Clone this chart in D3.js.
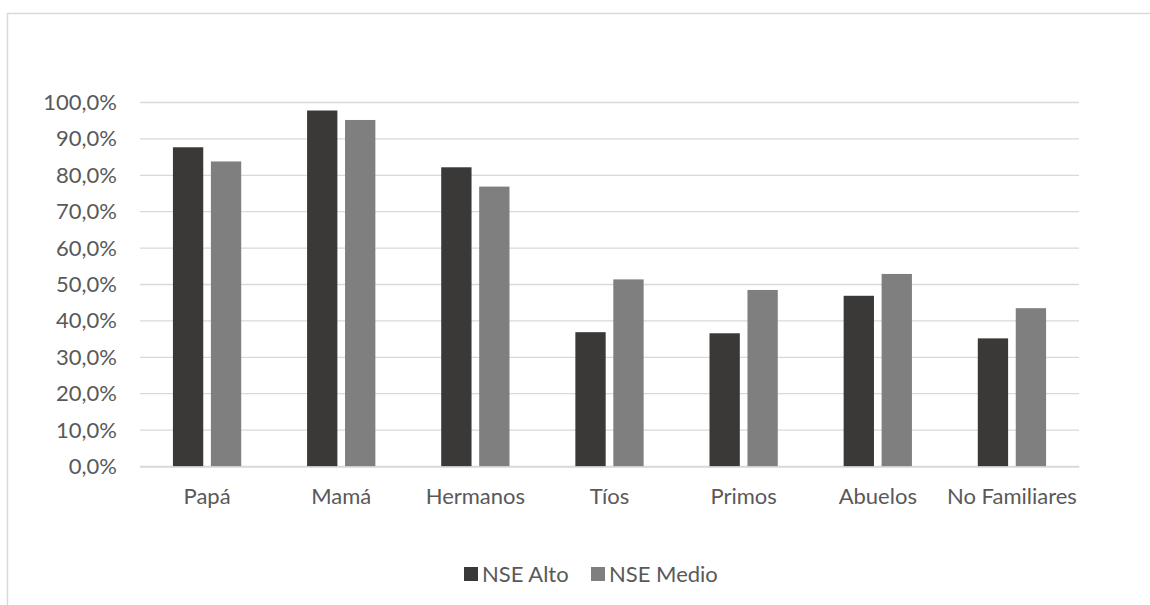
<!DOCTYPE html>
<html>
<head>
<meta charset="utf-8">
<script src="https://cdn.jsdelivr.net/npm/d3@7"></script>
<style>
  body { margin: 0; background: #fff; }
  text { font-family: Lato, "Open Sans", sans-serif; fill: #595959; }
</style>
</head>
<body>
<div id="chart-area"></div>
<script>
const categories = ["Papá", "Mamá", "Hermanos", "Tíos", "Primos", "Abuelos", "No Familiares"];
const seriesNames = ["NSE Alto", "NSE Medio"];
const nseAlto = [87.7, 97.8, 82.2, 36.9, 36.6, 46.9, 35.2];
const nseMedio = [83.8, 95.2, 76.9, 51.4, 48.5, 52.9, 43.5];
const yTicks = [0, 10, 20, 30, 40, 50, 60, 70, 80, 90, 100];
const colors = ["#3a3937", "#7f7f7f"];

let W = 1150, H = 605;
let margin = {top: 102.5, right: 71, bottom: 138.5, left: 140},
  width = W - margin.left - margin.right,
  height = H - margin.top - margin.bottom;

let root = d3.select("#chart-area")
  .append("svg")
  .attr("width", W)
  .attr("height", H);

// chart frame (cut off on right and bottom like the original)
root.append("rect")
  .attr("x", 7.5).attr("y", 13.5)
  .attr("width", 1160).attr("height", 620)
  .attr("fill", "none")
  .attr("stroke", "#d9d9d9")
  .attr("stroke-width", 1.5);

let svg = root.append("g")
  .attr("transform", "translate(" + margin.left + "," + margin.top + ")");

let x0 = d3.scaleBand().domain(categories).range([0, width]).padding(0);
let y = d3.scaleLinear().domain([0, 100]).range([height, 0]);

let bw = x0.bandwidth();
let barW = bw * 0.226, gap = bw * 0.057;

// gridlines
svg.selectAll(".grid")
  .data(yTicks)
  .enter()
  .append("line")
  .attr("x1", 0).attr("x2", width)
  .attr("y1", d => y(d)).attr("y2", d => y(d))
  .attr("stroke", "#d9d9d9")
  .attr("stroke-width", 1.3);

// y axis labels
let yAxis = d3.axisLeft(y)
  .tickValues(yTicks)
  .tickSize(0)
  .tickPadding(23)
  .tickFormat(d => d3.format(".1f")(d).replace(".", ",") + "%");

let yG = svg.append("g").call(yAxis);
yG.select(".domain").remove();
yG.selectAll("text").style("font-size", "22px").attr("fill", "#595959").style("font-family", "Lato");

// bars
let data = categories.map((c, i) => ({cat: c, vals: [nseAlto[i], nseMedio[i]]}));
let groups = svg.selectAll(".grp")
  .data(data)
  .enter()
  .append("g")
  .attr("transform", d => "translate(" + (x0(d.cat) + bw / 2) + ",0)");

groups.selectAll("rect")
  .data(d => d.vals)
  .enter()
  .append("rect")
  .attr("x", (d, i) => i === 0 ? -gap / 2 - barW : gap / 2)
  .attr("y", d => y(d))
  .attr("width", barW)
  .attr("height", d => height - y(d))
  .attr("fill", (d, i) => colors[i]);

// x axis
let xAxis = d3.axisBottom(x0).tickSize(0).tickPadding(22);
let xG = svg.append("g")
  .attr("transform", "translate(0," + height + ")")
  .call(xAxis);
xG.select(".domain").attr("stroke", "#d9d9d9").attr("stroke-width", 1.3);
xG.selectAll("text").style("font-size", "22px").attr("fill", "#595959").style("font-family", "Lato");

// legend
let legend = root.append("g").attr("transform", "translate(464,574)");
let lx = [0, 127];
seriesNames.forEach((s, i) => {
  legend.append("rect")
    .attr("x", lx[i]).attr("y", -7)
    .attr("width", 14).attr("height", 14)
    .attr("fill", colors[i]);
  legend.append("text")
    .attr("x", lx[i] + 18).attr("y", 0)
    .attr("dy", "0.35em")
    .style("font-size", "22px")
    .text(s);
});
</script>
</body>
</html>
